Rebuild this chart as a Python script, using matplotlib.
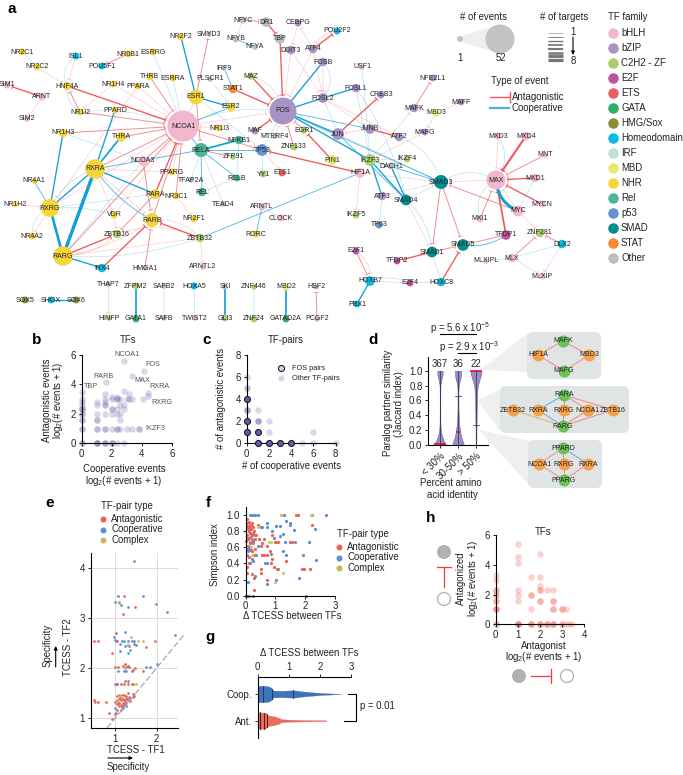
import numpy as np
import matplotlib
matplotlib.use("Agg")
import matplotlib.pyplot as plt
from matplotlib.patches import Circle, FancyBboxPatch, Polygon

plt.rcParams['font.family'] = ['Liberation Sans', 'DejaVu Sans']
plt.rcParams['mathtext.default'] = 'regular'
plt.rcParams['axes.linewidth'] = 0.8

W, H = 683, 775

# ------------------------------------------------------------------ network
family_names = ['bHLH', 'bZIP', 'C2H2 - ZF', 'E2F', 'ETS', 'GATA', 'HMG/Sox', 'Homeodomain',
                'IRF', 'MBD', 'NHR', 'Rel', 'p53', 'SMAD', 'STAT', 'Other']
family_colors = ['#f0b7cf', '#a993c4', '#a9cf6a', '#b9569f', '#ea5f63', '#2fae65', '#8a8f3a', '#0cbce0',
                 '#c2ded6', '#e9e96b', '#f6d53b', '#4bb49a', '#6494cd', '#008f8f', '#f28c2c', '#bdbdbd']

# name, layout x, layout y, family, number of events
nodes_left = [
    ('NR2C1', 22, 52, 'NHR', 1), ('NR2C2', 37, 67, 'NHR', 1), ('SIM1', 7, 85, 'bHLH', 1),
    ('ARNT', 42, 97, 'bHLH', 1), ('SIM2', 27, 119, 'bHLH', 0), ('ISL1', 76, 56, 'Homeodomain', 1),
    ('HNF4A', 67, 86, 'NHR', 2), ('POU5F1', 102, 66, 'Homeodomain', 1), ('NR0B1', 128, 54, 'NHR', 1),
    ('ESRRG', 153, 52, 'NHR', 1), ('NR1H4', 113, 84, 'NHR', 1), ('PPARA', 138, 86, 'NHR', 1),
    ('THRB', 150, 77, 'NHR', 1), ('ESRRA', 173, 78, 'NHR', 1), ('NR1I2', 80, 112, 'NHR', 1),
    ('PPARD', 115, 110, 'NHR', 1), ('NR1H3', 63, 133, 'NHR', 2), ('THRA', 121, 137, 'NHR', 3),
    ('NCOA1', 183, 126, 'bHLH', 52), ('ESR1', 196, 97, 'NHR', 9), ('ESR2', 231, 107, 'NHR', 2),
    ('IRF9', 224, 68, 'IRF', 0), ('STAT1', 233, 89, 'STAT', 2), ('PLSCR1', 210, 79, 'Other', 0),
    ('SMYD3', 209, 34, 'Other', 0), ('NR2F2', 181, 37, 'NHR', 1), ('NR1I3', 219, 128, 'NHR', 1),
    ('NCOA3', 143, 161, 'bHLH', 3), ('RXRA', 95, 169, 'NHR', 18), ('PPARG', 172, 172, 'NHR', 1),
    ('RARA', 155, 194, 'NHR', 3), ('NR3C1', 176, 196, 'NHR', 1), ('NR2F1', 194, 219, 'NHR', 1),
    ('VDR', 114, 215, 'NHR', 1), ('RARB', 152, 220, 'NHR', 8), ('ZBTB32', 200, 238, 'C2H2 - ZF', 2),
    ('ZBTB16', 117, 234, 'C2H2 - ZF', 2), ('RXRG', 50, 208, 'NHR', 15), ('NR4A1', 34, 181, 'NHR', 0),
    ('NR1H2', 15, 204, 'NHR', 0), ('NR4A2', 32, 236, 'NHR', 1), ('RARG', 63, 256, 'NHR', 18),
    ('IRX4', 102, 268, 'Homeodomain', 2), ('HMGA1', 145, 268, 'Other', 0), ('ARNTL2', 203, 267, 'bHLH', 0),
]
nodes_middle = [
    ('MAZ', 251, 76, 'C2H2 - ZF', 1), ('NFYC', 243, 20, 'Other', 1), ('DR1', 266, 22, 'Other', 3),
    ('NFYB', 236, 39, 'Other', 1), ('NFYA', 255, 47, 'Other', 0), ('TBP', 280, 39, 'Other', 3),
    ('CEBPG', 298, 23, 'bZIP', 1), ('DDIT3', 291, 50, 'bZIP', 2), ('ATF4', 313, 49, 'bZIP', 2),
    ('POU2F2', 337, 31, 'Homeodomain', 1), ('FOSB', 323, 62, 'bZIP', 2), ('FOSL2', 323, 98, 'bZIP', 3),
    ('FOSL1', 356, 88, 'bZIP', 2), ('USF1', 362, 67, 'bHLH', 0), ('CREB3', 381, 95, 'bZIP', 1),
    ('FOS', 283, 111, 'bZIP', 38), ('MAF', 255, 131, 'bZIP', 1), ('MTERF4', 275, 136, 'Other', 0),
    ('EGR1', 304, 130, 'C2H2 - ZF', 1), ('ZNF133', 294, 147, 'C2H2 - ZF', 1), ('PIN1', 332, 160, 'MBD', 3),
    ('NFKB1', 239, 140, 'Rel', 2), ('RELA', 201, 150, 'Rel', 8), ('TP53', 262, 150, 'p53', 5),
    ('ZFP91', 233, 157, 'C2H2 - ZF', 0), ('TFAP2A', 191, 180, 'Other', 0), ('RELB', 237, 178, 'Rel', 1),
    ('REL', 202, 192, 'Rel', 2), ('TEAD4', 223, 204, 'Other', 0), ('YY1', 263, 174, 'C2H2 - ZF', 1),
    ('ETS1', 282, 173, 'ETS', 1), ('ARNTL', 262, 207, 'bHLH', 1), ('CLOCK', 281, 218, 'bHLH', 1),
    ('RORC', 256, 234, 'NHR', 1), ('JUN', 338, 134, 'bZIP', 5), ('JUNB', 370, 129, 'bZIP', 3),
    ('ATF2', 399, 137, 'bZIP', 2), ('HIF1A', 360, 173, 'bHLH', 3), ('IKZF3', 370, 160, 'C2H2 - ZF', 5),
    ('IKZF4', 407, 159, 'C2H2 - ZF', 1), ('DACH1', 391, 166, 'Other', 1), ('ATF3', 382, 196, 'bZIP', 2),
    ('IKZF5', 356, 215, 'C2H2 - ZF', 1), ('TP63', 379, 225, 'p53', 1),
]
nodes_right = [
    ('NFE2L1', 433, 78, 'bZIP', 1), ('MAFK', 414, 108, 'bZIP', 2), ('MBD3', 436, 113, 'MBD', 1),
    ('MAFF', 461, 102, 'bZIP', 1), ('MAFG', 425, 132, 'bZIP', 1), ('SMAD3', 441, 182, 'SMAD', 8),
    ('SMAD4', 406, 200, 'SMAD', 4), ('SMAD1', 432, 252, 'SMAD', 4), ('SMAD5', 463, 245, 'SMAD', 5),
    ('TFDP2', 397, 261, 'E2F', 1), ('E2F1', 356, 251, 'E2F', 1), ('MAX', 496, 180, 'bHLH', 17),
    ('MXD3', 498, 136, 'bHLH', 1), ('MXD4', 526, 136, 'bHLH', 2), ('MNT', 545, 155, 'bHLH', 0),
    ('MXD1', 535, 178, 'bHLH', 2), ('MYCN', 542, 204, 'bHLH', 1), ('MYC', 518, 211, 'bHLH', 4),
    ('MXI1', 480, 219, 'bHLH', 1), ('TFDP1', 506, 235, 'E2F', 3), ('ZNF281', 540, 233, 'C2H2 - ZF', 2),
    ('DLX2', 562, 244, 'Homeodomain', 2), ('MLX', 512, 258, 'bHLH', 2), ('MLXIPL', 486, 261, 'bHLH', 0),
    ('MLXIP', 542, 276, 'bHLH', 1), ('HOXC8', 441, 282, 'Homeodomain', 2), ('E2F4', 410, 283, 'E2F', 1),
    ('HOXB7', 370, 281, 'Homeodomain', 3), ('PBX1', 357, 304, 'Homeodomain', 1),
]
nodes_pairs = [
    ('SOX5', 25, 300, 'HMG/Sox', 1), ('SHOX', 51, 300, 'Homeodomain', 1), ('SOX6', 76, 300, 'HMG/Sox', 1),
    ('THAP7', 108, 284, 'Other', 0), ('HINFP', 109, 318, 'C2H2 - ZF', 0), ('ZFPM2', 136, 286, 'C2H2 - ZF', 1),
    ('GATA1', 136, 319, 'GATA', 1), ('SAFB2', 164, 286, 'Other', 0), ('SAFB', 164, 318, 'Other', 0),
    ('HOXA5', 194, 286, 'Homeodomain', 1), ('TWIST2', 195, 318, 'bHLH', 0), ('SKI', 225, 287, 'Other', 0),
    ('GLI3', 225, 318, 'C2H2 - ZF', 1), ('ZNF446', 254, 287, 'C2H2 - ZF', 0), ('ZNF24', 254, 319, 'C2H2 - ZF', 1),
    ('MBD2', 286, 287, 'MBD', 1), ('GATAD2A', 286, 319, 'GATA', 1), ('HSF2', 316, 287, 'Other', 0),
    ('PCGF2', 317, 319, 'Other', 0),
]

# source, target, number of targets, bend
antagonistic_edges = [
    ('HNF4A', 'NCOA1', 3, 0), ('NR1H4', 'NCOA1', 1, 0), ('PPARA', 'NCOA1', 1, 0), ('THRB', 'NCOA1', 2, 0),
    ('NR1I2', 'NCOA1', 2, 0), ('NR1H3', 'NCOA1', 2, 0), ('THRA', 'NCOA1', 2, 0), ('RXRA', 'NCOA1', 2, 0),
    ('PPARG', 'NCOA1', 1, 0), ('RARA', 'NCOA1', 3, 0), ('NR3C1', 'NCOA1', 2, 0), ('RARB', 'NCOA1', 2, 0),
    ('RXRG', 'NCOA1', 1, 0), ('RARG', 'NCOA1', 2, 0), ('VDR', 'NCOA1', 1, 0), ('NR1I3', 'NCOA1', 1, 0),
    ('NCOA3', 'NCOA1', 2, 0), ('ESR1', 'RELA', 2, 0), ('ESR1', 'SMYD3', 2, 0), ('NCOA1', 'TP53', 2, 0),
    ('NCOA1', 'FOS', 1, 0), ('MAZ', 'FOS', 3, 0), ('STAT1', 'FOS', 3, 0), ('MAF', 'FOS', 3, 0),
    ('MTERF4', 'FOS', 1, 0), ('EGR1', 'FOS', 2, 0), ('ZNF133', 'FOS', 2, 0), ('PIN1', 'EGR1', 3, 0),
    ('TBP', 'FOS', 3, 0), ('DDIT3', 'FOS', 1, 0), ('ATF4', 'FOS', 1, 0), ('MAZ', 'FOS', 1, -0.3),
    ('DR1', 'TBP', 3, 0), ('NFYC', 'DR1', 2, 0), ('NFYC', 'NFYB', 1, 0), ('ATF4', 'CEBPG', 1, 0),
    ('CEBPG', 'DDIT3', 1, 0), ('DDIT3', 'FOSL2', 1, 0), ('ATF4', 'FOSL2', 1, 0), ('ATF4', 'POU2F2', 3, 0),
    ('POU2F2', 'ATF4', 1, 0.3), ('FOSB', 'FOSL2', 1, 0), ('JUN', 'CREB3', 3, 0), ('JUNB', 'ATF2', 3, 0),
    ('JUNB', 'JUN', 1, 0), ('FOSL2', 'JUNB', 1, 0), ('FOSL2', 'ATF2', 1, 0), ('IKZF3', 'MAFK', 1, 0),
    ('IKZF3', 'MAFG', 1, 0), ('IKZF3', 'IKZF4', 1, 0), ('HIF1A', 'TP53', 3, 0),
    ('HIF1A', 'SMAD3', 1, 0), ('HIF1A', 'IKZF5', 1, 0), ('ATF3', 'SMAD3', 1, 0), ('SMAD4', 'SMAD1', 1, 0),
    ('SMAD3', 'SMAD1', 2, 0), ('SMAD3', 'SMAD5', 2, 0), ('MAX', 'SMAD3', 1, 0), ('MYC', 'SMAD3', 2, 0),
    ('SMAD1', 'TFDP2', 3, 0), ('TFDP1', 'SMAD5', 2, 0), ('SMAD1', 'SMAD5', 2, 0), ('HOXC8', 'SMAD5', 3, 0),
    ('E2F4', 'HOXB7', 1, 0), ('E2F1', 'HOXB7', 2, 0), ('E2F1', 'HOXB7', 1, -0.3), ('MXD3', 'MAX', 1, 0),
    ('MXD4', 'MAX', 5, 0), ('MNT', 'MAX', 2, 0), ('MXD1', 'MAX', 3, 0), ('MYCN', 'MAX', 3, 0),
    ('MYC', 'MAX', 1, 0), ('MXI1', 'MAX', 2, 0), ('TFDP1', 'MAX', 4, 0), ('MYC', 'ZNF281', 1, 0),
    ('MLX', 'ZNF281', 2, 0), ('DLX2', 'ZNF281', 2, 0), ('DLX2', 'MLXIP', 1, 0), ('MLX', 'MLXIP', 1, 0),
    ('MBD3', 'MAFF', 1, 0), ('MAFK', 'NFE2L1', 2, 0), ('MBD3', 'MAFK', 1, 0), ('MBD3', 'MAFG', 1, 0),
    ('RELA', 'ZFP91', 2, 0), ('RELB', 'REL', 1, 0), ('TP53', 'ETS1', 1, 0), ('PLSCR1', 'ESR2', 1, 0),
    ('NR2C2', 'HNF4A', 1, 0), ('ARNT', 'SIM1', 3, 0), ('ARNT', 'SIM2', 1, 0), ('ISL1', 'HNF4A', 1, 0),
    ('NR1I2', 'HNF4A', 2, 0), ('NR1H4', 'NR1I2', 1, 0), ('NR0B1', 'POU5F1', 2, 0), ('ESRRG', 'NR0B1', 1, 0),
    ('PPARA', 'RXRG', 1, 0), ('NR1H2', 'RXRG', 1, 0), ('RXRG', 'NR4A2', 1, 0), ('NCOA3', 'RARB', 2, 0),
    ('RARA', 'ZBTB16', 2, 0), ('RARG', 'RARB', 1, 0.12), ('RARG', 'ZBTB16', 3, 0), ('RARG', 'ZBTB16', 1, 0.2),
    ('IRX4', 'RARB', 3, 0), ('HMGA1', 'RARB', 2, 0), ('ZBTB32', 'RARB', 3, 0), ('ZBTB32', 'ARNTL2', 1, 0),
    ('RARG', 'ZBTB32', 1, 0), ('NR3C1', 'NR2F1', 1, 0), ('PPARG', 'RXRA', 1, 0), ('RXRA', 'VDR', 1, 0),
    ('RXRA', 'RARB', 1, 0), ('VDR', 'ZBTB16', 1, 0), ('ZBTB32', 'RARB', 1, 0.25), ('ZBTB32', 'ZBTB16', 1, 0.2),
]
cooperative_edges = [
    ('NR1H3', 'RXRG', 3, 0), ('RXRA', 'RARG', 8, 0), ('RXRG', 'RARG', 6, 0), ('RXRA', 'RXRG', 3, 0),
    ('RXRG', 'RXRA', 1, -0.2), ('PPARD', 'RXRA', 3, 0), ('THRA', 'RXRA', 4, 0), ('RXRA', 'RELA', 2, 0),
    ('RXRA', 'RARA', 3, 0), ('RARG', 'NCOA3', 1, 0), ('NR1H3', 'NCOA3', 1, 0), ('RXRA', 'RARB', 2, 0.12),
    ('NR4A1', 'RXRG', 2, 0), ('RXRG', 'NR4A2', 1, 0.35), ('RXRG', 'VDR', 1, -0.1), ('RXRG', 'RARA', 1, 0),
    ('RARG', 'IRX4', 3, 0), ('RARG', 'ZBTB32', 1, 0.1), ('ZBTB32', 'HIF1A', 2, 0), ('ESRRG', 'NCOA1', 1, 0),
    ('ESRRA', 'NCOA1', 1, 0), ('NR1I2', 'NCOA1', 1, -0.12), ('RELA', 'NCOA1', 2, 0), ('ESR1', 'NCOA1', 1, 0),
    ('ESR2', 'NCOA1', 2, 0), ('NCOA1', 'FOS', 1, -0.15), ('NR2F2', 'ESR1', 3, 0), ('ESR1', 'ESR2', 3, 0),
    ('IRF9', 'STAT1', 2, 0), ('ESR1', 'TP53', 1, 0), ('NFYB', 'NFYA', 2, 0), ('FOSB', 'FOS', 3, 0),
    ('FOS', 'FOSL2', 3, 0), ('FOSL2', 'FOSL1', 3, 0), ('FOSB', 'FOSL2', 1, -0.4), ('FOS', 'JUNB', 2, 0),
    ('FOS', 'JUN', 3, 0), ('FOS', 'IKZF3', 3, 0), ('FOS', 'SMAD3', 2, 0), ('FOSL2', 'JUN', 1, 0),
    ('FOSL1', 'IKZF3', 1, 0), ('USF1', 'IKZF3', 1, 0), ('FOSL1', 'SMAD4', 1, -0.1), ('ATF2', 'SMAD3', 1, -0.25),
    ('IKZF3', 'SMAD4', 3, 0), ('IKZF3', 'SMAD3', 2, 0), ('JUN', 'SMAD3', 1, 0), ('JUN', 'SMAD4', 2, 0),
    ('IKZF3', 'ATF3', 3, 0), ('DACH1', 'SMAD4', 3, 0), ('ATF3', 'TP63', 1, 0), ('SMAD4', 'SMAD3', 1, 0),
    ('SMAD4', 'SMAD1', 1, -0.2), ('SMAD3', 'MAX', 1, -0.3), ('SMAD5', 'TFDP1', 2, 0.2), ('SMAD1', 'HOXC8', 1, 0),
    ('E2F4', 'HOXC8', 1, 0), ('HOXB7', 'E2F4', 1, -0.2), ('HOXB7', 'PBX1', 3, 0), ('MXD3', 'MAX', 1, -0.35),
    ('MXI1', 'MAX', 1, -0.4), ('MAX', 'MYC', 7, 0.3), ('MXD1', 'MYC', 1, 0), ('DLX2', 'MLX', 1, 0),
    ('MLX', 'MLXIPL', 1, 0), ('NFKB1', 'RELA', 4, 0), ('RELA', 'TP53', 2, 0), ('RELA', 'TFAP2A', 1, 0),
    ('RELA', 'REL', 2, 0), ('RELA', 'RELB', 2, 0), ('RELA', 'TEAD4', 1, 0), ('NFKB1', 'RELB', 1, 0),
    ('TP53', 'YY1', 1, 0), ('TP53', 'FOS', 1, 0), ('ARNTL', 'CLOCK', 1, 0), ('ARNTL', 'RORC', 2, 0),
    ('NR2C1', 'NR2C2', 1, 0), ('ISL1', 'HNF4A', 1, 0.4), ('HNF4A', 'NR1I2', 1, 0.3), ('SOX5', 'SHOX', 1, 0),
    ('SHOX', 'SOX6', 3, 0), ('ZFPM2', 'GATA1', 4, 0), ('SAFB2', 'SAFB', 1, 0), ('HOXA5', 'TWIST2', 1, 0),
    ('SKI', 'GLI3', 4, 0), ('ZNF446', 'ZNF24', 1, 0), ('MBD2', 'GATAD2A', 4, 0),
]
extra_antagonistic_pairs = [('THAP7', 'HINFP', 1, 0), ('PCGF2', 'HSF2', 2, 0)]

# legends
event_legend_values = [1, 52]
target_legend_values = [1, 2, 3, 4, 5, 6, 7, 8]

# ------------------------------------------------------------------ panel b
b_x = [0, 0, 0, 0, 0, 0, 0, 0, 0, 0, 0, 0, 0, 0, 0,
       1, 1, 1, 1, 1, 1, 1, 1, 1, 1, 1,
       1.58, 1.62, 1.58, 1.58, 1.58, 1.58, 1.58, 1.58, 1.58, 1.58, 1.58, 1.58,
       2, 2, 2, 2, 2, 2, 2, 2, 2, 2.32, 2.32, 2.32, 2.32, 2.32, 2.32, 2.32, 2.32,
       2.58, 2.58, 2.58, 2.58, 2.58, 2.81, 2.84, 2.81, 2.81, 2.81, 3, 3, 3.17, 3.17,
       3.33, 3.32, 3.32, 3.81, 3.84, 4.18, 4.1, 4.44, 4.44]
b_y = [3.46, 3, 2.81, 2.58, 2.32, 2.32, 2.32, 2, 2, 1.58, 1.58, 1, 1, 0, 0,
       2.81, 2.58, 2, 1.58, 1.58, 1, 1, 0, 0, 0, 0,
       3.32, 4.17, 3, 2.81, 2.58, 2.58, 2, 1, 1, 0, 0, 0,
       3.17, 3, 2.32, 2.32, 2, 1, 0, 0, 0, 3.17, 3, 3, 2.32, 2, 1, 1, 0,
       3, 2.58, 2, 1.58, 1, 0, 5.58, 2.58, 2.32, 3.58, 3, 1, 3.32, 3,
       4.58, 3, 1, 1, 1, 4.93, 3, 3.4, 3.2]

# ------------------------------------------------------------------ panel c
c_other_x = [0, 0, 0, 0, 0, 0, 1, 1, 1, 2, 2, 5, 6, 6, 8, 1]
c_other_y = [6, 5, 5, 3, 3, 3, 3, 2, 2, 2, 1, 0, 1, 0, 0, 2]
c_fos_x = [0, 0, 0, 1, 1, 2, 3, 4]
c_fos_y = [4, 2, 1, 1, 0, 0, 0, 0]

# ------------------------------------------------------------------ panel d
d_categories = ['< 30%', '30-50%', '> 50%']
d_counts = [367, 36, 22]
d_medians = [0.01, 0.18, 1.0]
d_quartiles = [[], [0.66], [0.27]]
d_levels = [0, 0.05, 0.1, 0.15, 0.2, 0.3, 0.5, 0.7, 0.8, 0.85, 0.9, 0.95, 1.0]
d_density = [[0.33, 0.22, 0.14, 0.08, 0.04, 0.02, 0.015, 0.015, 0.02, 0.05, 0.1, 0.14, 0.15],
             [0.33, 0.26, 0.19, 0.14, 0.11, 0.05, 0.025, 0.02, 0.04, 0.08, 0.14, 0.16, 0.17],
             [0.015, 0.015, 0.02, 0.02, 0.02, 0.03, 0.04, 0.06, 0.1, 0.16, 0.22, 0.28, 0.31]]

# ------------------------------------------------------------------ panel e
e_ant_x = [1.21, 1.1, 1.48, 1.19, 0.49, 0.59, 1.02, 1.05, 0.93, 1.95, 1.3, 1.74, 1.0, 1.07, 1.23, 1.19, 1.26, 1.32,
           1.44, 1.48, 1.68, 1.03, 1.13, 1.21, 1.23, 1.31, 1.4, 1.44, 0.49, 0.5, 0.59, 0.78, 0.84, 0.92, 1.42, 1.45,
           1.42, 1.03, 1.1, 1.15, 1.22, 1.27, 1.03, 1.08, 1.13, 1.18, 1.23, 1.29, 1.03, 1.08, 1.13, 1.18, 1.1, 1.15,
           1.21, 1.05, 1.02, 1.26, 1.32, 1.35, 1.0]
e_ant_y = [3.43, 3.31, 3.21, 3.08, 2.53, 2.53, 2.69, 2.53, 2.29, 2.53, 2.46, 2.41, 2.02, 2.02, 2.08, 2.03, 2.01, 2.01,
           1.95, 1.99, 1.94, 1.67, 1.67, 1.67, 1.73, 1.67, 1.67, 1.67, 1.36, 1.31, 1.31, 1.31, 1.1, 0.98, 1.48, 1.44,
           1.41, 1.43, 1.45, 1.45, 1.45, 1.44, 1.35, 1.37, 1.35, 1.37, 1.33, 1.37, 1.28, 1.29, 1.26, 1.29, 1.23, 1.21,
           1.27, 1.16, 1.09, 1.39, 1.41, 1.33, 1.31]
e_coop_x = [1.45, 1.07, 1.67, 1.0, 1.13, 1.31, 1.98, 2.25, 2.45, 1.24, 0.98, 0.99, 1.02, 1.17, 1.21, 1.31, 1.4, 1.45,
            1.11, 1.23, 1.45, 1.5, 1.32, 1.35, 1.11, 1.31, 1.74, 1.84, 2.01, 1.06, 1.22, 1.27, 1.31, 1.4, 1.0, 1.05,
            1.31, 1.3, 1.11, 1.21, 1.27, 1.23, 1.31, 1.19, 1.14, 1.07, 1.0, 1.0, 1.35, 1.18, 1.26]
e_coop_y = [4.14, 3.43, 3.43, 3.31, 3.25, 3.21, 3.28, 3.11, 2.66, 2.71, 2.62, 2.56, 2.53, 2.53, 2.53, 2.53, 2.53, 2.53,
            2.47, 2.43, 2.47, 2.46, 2.43, 2.36, 2.34, 2.29, 2.02, 2.02, 2.07, 1.93, 1.93, 1.93, 2.03, 1.93, 1.67, 1.67,
            1.74, 1.49, 1.39, 1.36, 1.29, 1.26, 1.36, 1.19, 1.16, 1.29, 1.19, 1.08, 1.39, 1.23, 1.23]
e_complex_x = [1.1, 1.37, 1.55, 1.68, 1.31, 1.23, 1.49, 1.1, 1.07, 1.15]
e_complex_y = [3.29, 2.62, 2.53, 2.53, 2.46, 1.99, 1.67, 1.43, 1.35, 1.41]

# ------------------------------------------------------------------ panel f
f_ant_x = [0.03, 0.05, 0.08, 0.1, 0.13, 0.15, 0.18, 0.2, 0.22, 0.25, 0.28, 0.3, 0.12, 0.05, 0.02, 0.08, 0.15, 0.25,
           0.35, 0.4, 0.45, 0.5, 0.55, 0.6, 0.05, 0.12, 0.22, 0.27, 0.3, 0.1, 0.03, 0.05, 0.22, 0.28, 0.52, 0.5, 0.7,
           0.62, 0.55, 0.7, 0.8, 0.85, 0.72, 0.9, 0.95, 1.1, 0.98, 1.03, 1.1, 0.88, 1.35, 1.9, 1.95, 2.15, 1.5, 1.55,
           0.28, 0.0, 0.03, 2.02, 1.18, 1.69, 1.75, 2.22, 2.23, 0.07, 0.12, 0.17, 0.1, 0.2, 0.14, 0.06, 0.24]
f_ant_y = [0.95, 0.9, 0.85, 0.8, 0.88, 0.78, 0.83, 0.9, 0.75, 0.85, 0.8, 0.7, 0.72, 0.75, 0.68, 0.62, 0.6, 0.65, 0.75,
           0.88, 0.7, 0.62, 0.65, 0.7, 0.5, 0.48, 0.55, 0.5, 0.58, 0.4, 0.35, 0.28, 0.27, 0.22, 0.33, 0.28, 0.2, 0.5,
           0.5, 0.5, 0.55, 0.4, 0.62, 0.45, 0.35, 0.33, 0.66, 0.66, 0.66, 0.75, 0.43, 0.33, 0.33, 0.33, 0.66, 0.66,
           0.07, 0.0, 0.0, 0.0, 1.0, 1.0, 1.0, 1.0, 0.88, 0.72, 0.82, 0.74, 0.92, 0.86, 0.67, 0.86, 0.78]
f_coop_x = [0.15, 0.2, 0.25, 0.3, 0.42, 1.3, 2.7, 1.37, 1.5, 1.48, 0.7, 0.7, 1.03, 1.15, 0.5, 0.55, 1.63, 2.33, 0.9,
            1.25, 1.15, 0.95, 0.3, 0.1, 0.05, 0.08, 0.2, 0.15, 0.25, 0.03, 0.1, 0.4, 0.08, 0.18, 0.35, 0.2, 0.25, 0.15,
            0.65, 0.72, 0.85, 1.05, 1.35, 1.25, 1.32, 1.65, 2.13, 1.92, 2.35, 1.78, 1.03, 0.72, 0.08, 0.3, 0.02, 0.12,
            0.25]
f_coop_y = [1.0, 1.0, 1.0, 1.0, 1.0, 1.0, 1.0, 0.93, 0.88, 0.9, 0.9, 0.85, 0.87, 0.87, 0.85, 0.85, 0.81, 0.83, 0.8,
            0.76, 0.74, 0.72, 0.75, 0.85, 0.82, 0.7, 0.7, 0.65, 0.68, 0.58, 0.58, 0.62, 0.55, 0.57, 0.5, 0.45, 0.43,
            0.4, 0.4, 0.4, 0.52, 0.33, 0.5, 0.55, 0.66, 0.66, 0.66, 0.5, 0.44, 0.22, 0.19, 0.14, 0.17, 0.25, 0.0, 0.0,
            0.0]
f_complex_x = [1.2, 2.2, 0.4, 0.02, 0.78, 0.85, 0.18, 0.2, 1.0, 1.25, 0.0]
f_complex_y = [1.0, 1.0, 0.85, 0.8, 0.66, 0.66, 0.6, 0.5, 0.17, 0.28, 0.8]

# ------------------------------------------------------------------ panel g
g_coop_x = [0, 0.03, 0.1, 0.3, 0.4, 0.47, 0.5, 0.8, 1.15, 1.5, 2.0, 2.7]
g_coop_h = [0.26, 0.3, 0.31, 0.3, 0.26, 0.2, 0.13, 0.12, 0.14, 0.09, 0.04, 0.0]
g_ant_x = [0, 0.03, 0.1, 0.25, 0.3, 0.33, 0.55, 0.7, 0.75, 1.0, 1.5, 2.2]
g_ant_h = [0.26, 0.3, 0.31, 0.3, 0.25, 0.2, 0.16, 0.1, 0.06, 0.04, 0.025, 0.015]
g_coop_lines = [0.18, 0.47, 1.15]
g_ant_lines = [0.08, 0.2, 0.3]

# ------------------------------------------------------------------ panel h
h_x = [0] * 13 + [1] * 10 + [1.58] * 7 + [2] * 10 + [2.32] * 4 + [2.58] * 8 + [3, 3, 3, 3, 3.17, 3.17, 3.32, 3.46]
h_y = [3.32, 3, 2.32, 2.32, 2, 2, 1.58, 1.58, 1, 1, 1, 0, 0,
       5.4, 4.5, 4.1, 2.32, 2, 1.58, 0, 0, 0, 0,
       3.17, 2, 2, 1, 0, 0, 0,
       4.7, 3.17, 2.58, 2.32, 2.32, 1.58, 1.58, 0, 0, 0,
       2.32, 0, 0, 0,
       2.32, 1.58, 1.58, 1, 1, 0, 0, 0,
       1, 1, 0, 0, 1, 0, 0, 0]

# mini networks of panel d
mini_orange = [('HIF1A', 538, 355), ('MBD3', 589, 355), ('ZBTB32', 513, 410), ('RXRA', 538, 410), ('RXRG', 564, 410),
               ('NCOA1', 588, 410), ('ZBTB16', 613, 410), ('NCOA1', 539, 464), ('RXRG', 564, 464), ('RXRA', 588, 464)]
mini_green = [('MAFK', 563, 341), ('MAFG', 564, 371), ('RARA', 564, 395), ('RARG', 563, 426), ('PPARD', 563, 448),
              ('PPARG', 564, 480)]
mini_edges = [(0, 10, 'r'), (1, 10, 'r'), (0, 11, 'r'), (1, 11, 'r'),
              (3, 12, 'b'), (4, 12, 'b'), (5, 12, 'r'), (6, 12, 'r'),
              (2, 13, 'y'), (3, 13, 'b'), (4, 13, 'b'), (5, 13, 'r'), (6, 13, 'r'),
              (7, 14, 'r'), (8, 14, 'r'), (9, 14, 'b'), (7, 15, 'r'), (8, 15, 'r'), (9, 15, 'r')]

RED = '#f0595a'
BLUE = '#12a0d8'
DARK = '#222222'
PURPLE = '#6a5aa5'
PT_RED = '#ef5f55'
PT_BLUE = '#5b8fd6'
PT_GOLD = '#c9b45a'

fig = plt.figure(figsize=(W / 100, H / 100), dpi=100, facecolor='white')
net = fig.add_axes([0, 0, 1, 1], zorder=0)
net.set_xlim(0, W)
net.set_ylim(H, 0)
net.axis('off')


def px_size(d):
    # marker area for a diameter in pixels
    return (d * 0.72) ** 2


def label(x, y, s, size=6.9, **kw):
    kw.setdefault('ha', 'center')
    kw.setdefault('va', 'center')
    kw.setdefault('color', DARK)
    net.text(x, y, s, fontsize=size, **kw)


def sub_axes(left, right, top, bottom):
    a = fig.add_axes([left / W, 1 - bottom / H, (right - left) / W, (bottom - top) / H], zorder=2)
    a.patch.set_alpha(0)
    for side in ['top', 'right']:
        a.spines[side].set_visible(False)
    a.tick_params(labelsize=6.9, length=2.5, width=0.7, pad=1.5, colors=DARK)
    return a


# nodes
all_nodes = nodes_left + nodes_middle + nodes_right + nodes_pairs
pos = {n[0]: (n[1], n[2]) for n in all_nodes}
radius = {n[0]: 1.5 + 14 * np.sqrt(max(n[4], 0.4) / 52) for n in all_nodes}
fam_col = dict(zip(family_names, family_colors))


def draw_edge(src, dst, w, bend, kind):
    p0 = np.array(pos[src], float)
    p2 = np.array(pos[dst], float)
    d = p2 - p0
    ctrl = (p0 + p2) / 2 + bend * np.array([-d[1], d[0]])
    t = np.linspace(0, 1, 60)[:, None]
    pts = (1 - t) ** 2 * p0 + 2 * t * (1 - t) * ctrl + t ** 2 * p2
    col = RED if kind == 'a' else BLUE
    alpha = min(1, 0.42 + 0.3 * (w - 1))
    lw = 0.35 + 0.3 * (w - 1)
    if kind == 'a':
        gap = radius[dst] + 2.2
        keep = np.hypot(*(pts - p2).T) >= gap
        pts = pts[keep]
        tang = pts[-1] - pts[-2]
        tang = tang / np.hypot(*tang)
        n = np.array([-tang[1], tang[0]]) * 2.6
        end = pts[-1]
        net.plot([end[0] - n[0], end[0] + n[0]], [end[1] - n[1], end[1] + n[1]], color=col,
                 lw=max(0.5, lw * 0.7), alpha=alpha, zorder=2, solid_capstyle='butt')
    net.plot(pts[:, 0], pts[:, 1], color=col, lw=lw, alpha=alpha, zorder=2, solid_capstyle='round')


for e in antagonistic_edges + extra_antagonistic_pairs:
    draw_edge(e[0], e[1], e[2], e[3], 'a')
for e in cooperative_edges:
    draw_edge(e[0], e[1], e[2], e[3], 'c')

net.scatter([n[1] for n in all_nodes], [n[2] for n in all_nodes],
            s=[px_size(2 * radius[n[0]]) for n in all_nodes],
            c=[fam_col[n[3]] for n in all_nodes], linewidths=0, zorder=3)
for n in all_nodes:
    label(n[1], n[2], n[0], size=5.0, zorder=4)

# network legends
net.add_patch(Polygon([(460, 36.5), (498, 25), (498, 53), (460, 41.5)], closed=True, fc='#eeeeee', ec='none'))
net.scatter([460, 500], [39, 39], s=[px_size(6), px_size(29)], c='#c3c3c3', linewidths=0, zorder=3)
label(484, 17, '# of events')
label(460, 58, str(event_legend_values[0]))
label(501, 58, str(event_legend_values[1]))

label(564, 17, '# of targets')
for i, v in enumerate(target_legend_values):
    net.plot([548, 563], [33 + i * 3.9] * 2, color='#777777', lw=0.4 + 0.28 * (v - 1), solid_capstyle='butt')
label(573, 32, '1')
label(573, 61, '8')
net.annotate('', xy=(573, 55), xytext=(573, 37), arrowprops=dict(arrowstyle='-|>', color='black', lw=0.8,
                                                                  mutation_scale=5, shrinkA=0, shrinkB=0))

label(491, 81, 'Type of event', ha='left')
net.plot([490, 509], [97, 97], color=RED, lw=1.0)
net.plot([509.5, 509.5], [92, 102], color=RED, lw=1.0)
label(512, 97, 'Antagonistic', ha='left')
net.plot([490, 509], [108, 108], color='#45b4e4', lw=1.6)
label(512, 108, 'Cooperative', ha='left')

label(608, 17, 'TF family', ha='left')
for i, (fam, col) in enumerate(zip(family_names, family_colors)):
    net.scatter([613], [33 + i * 15], s=px_size(10.5), c=col, linewidths=0)
    label(621, 33 + i * 15, fam, ha='left')

# panel letters
for s, x, y in [('a', 12, 9), ('b', 37, 340), ('c', 207, 340), ('d', 373, 340),
                ('e', 50, 503), ('f', 208, 503), ('g', 210, 637), ('h', 431, 518)]:
    label(x, y, s, size=11, fontweight='bold', color='black')

# ---- b
ax_b = sub_axes(81.7, 171.7, 355, 443.3)
ax_b.scatter(b_x, b_y, s=px_size(6.5), color=PURPLE, alpha=0.24, linewidths=0, clip_on=False)
ax_b.set_xlim(0, 6)
ax_b.set_ylim(0, 6)
ax_b.set_xticks([0, 2, 4, 6])
ax_b.set_yticks([0, 2, 4, 6])
label(128, 340, 'TFs')
label(47, 400, 'Antagonistic events', rotation=90)
label(58, 400, 'log$_2$(# events + 1)', rotation=90)
label(124, 469, 'Cooperative events')
label(124, 481, 'log$_2$(# events + 1)')
for s, x, y in [('NCOA1', 127, 354), ('FOS', 153, 364), ('RARB', 104, 376), ('MAX', 142, 380),
                ('RXRA', 159, 387), ('TBP', 91, 387), ('RXRG', 162, 402), ('IKZF3', 155, 429)]:
    label(x, y, s, size=5.2, color='#555555')

# ---- c
ax_c = sub_axes(246.7, 335.7, 355, 443.3)
ax_c.scatter(c_other_x, c_other_y, s=px_size(6.5), color=PURPLE, alpha=0.24, linewidths=0, clip_on=False)
ax_c.scatter(c_fos_x, c_fos_y, s=px_size(6), facecolor=PURPLE, edgecolor='#1d1a33', linewidths=0.8,
             clip_on=False, zorder=3)
ax_c.set_xlim(0, 8)
ax_c.set_ylim(0, 8)
ax_c.set_xticks([0, 2, 4, 6, 8])
ax_c.set_yticks([0, 2, 4, 6, 8])
label(286, 340, 'TF-pairs')
label(221, 398, '# of antagonistic events', rotation=90)
label(292, 466, '# of cooperative events')
net.scatter([281], [368], s=px_size(6), facecolor='#d9d5e8', edgecolor='#1d1a33', linewidths=0.8)
net.scatter([281], [378], s=px_size(6), color='#d9d5e8', linewidths=0)
label(292, 368, 'FOS pairs', size=5.3, ha='left')
label(292, 378, 'Other TF-pairs', size=5.3, ha='left')

# ---- d
for verts in ([(483, 368), (528, 333), (528, 372), (483, 370)],
              [(478, 400), (502, 388), (500, 431), (478, 401)],
              [(480, 430), (530, 441), (530, 486), (480, 431)]):
    net.add_patch(Polygon(verts, closed=True, fc='#eef0f0', ec='none', zorder=0.5))
for x0, x1, y0, y1 in [(527, 601, 332, 379), (500, 629, 386, 433), (528, 602, 440, 488)]:
    net.add_patch(FancyBboxPatch((x0 + 6, y0 + 6), x1 - x0 - 12, y1 - y0 - 12, boxstyle='round,pad=6',
                                 fc='#e1e4e4', ec='none', zorder=0.6))
mini_nodes = mini_orange + mini_green
mini_cols = {'r': '#f08a86', 'b': '#6aa6dc', 'y': '#d8b85a'}
for a, b, k in mini_edges:
    net.plot([mini_nodes[a][1], mini_nodes[b][1]], [mini_nodes[a][2], mini_nodes[b][2]],
             color=mini_cols[k], lw=0.7, zorder=1)
net.scatter([m[1] for m in mini_orange], [m[2] for m in mini_orange], s=px_size(12), c='#f7a14a', linewidths=0, zorder=3)
net.scatter([m[1] for m in mini_green], [m[2] for m in mini_green], s=px_size(12), c='#6cc05a', linewidths=0, zorder=3)
for m in mini_nodes:
    label(m[1], m[2], m[0], size=5.0, zorder=4)

ax_d = sub_axes(428, 487.7, 356.7, 445)
for i, dens in enumerate(d_density):
    ax_d.fill_betweenx(d_levels, i - np.array(dens), i + np.array(dens), facecolor='#9a8cc6',
                       edgecolor='#6a5f96', linewidth=0.4)
    ax_d.plot([i - np.interp(d_medians[i], d_levels, dens), i + np.interp(d_medians[i], d_levels, dens)],
              [d_medians[i]] * 2, color='#e8174a', lw=1.3, solid_capstyle='butt', clip_on=False)
    for q in d_quartiles[i]:
        ax_d.plot([i - 0.15, i + 0.15], [q, q], color='#222244', lw=0.5)
    ax_d.plot([i, i], [0, 1], color='#2a2440', lw=0.5)
    ax_d.text(i, 1.03, str(d_counts[i]), ha='center', va='bottom', fontsize=6.9, color=DARK)
ax_d.set_xlim(-0.667, 2.65)
ax_d.set_ylim(0, 1.19)
ax_d.set_yticks([0, 0.2, 0.4, 0.6, 0.8, 1.0])
ax_d.set_xticks([0, 1, 2])
ax_d.set_xticklabels(d_categories, rotation=45, ha='right', rotation_mode='anchor')
label(388, 403, 'Paralog partner similarity', rotation=90)
label(399, 404, '(Jaccard index)', rotation=90)
label(451, 483, 'Percent amino')
label(452, 495, 'acid identity')
label(460, 328, 'p = 5.6 x 10$^{-5}$')
net.plot([440, 476], [334, 334], color='black', lw=0.8)
label(469, 347, 'p = 2.9 x 10$^{-3}$')
net.plot([458, 476], [352.7, 352.7], color='black', lw=0.8)

# ---- e
ax_e = sub_axes(90.7, 177.7, 553.3, 728.3)
ax_e.grid(color='#dcdcdc', lw=0.7)
ax_e.set_axisbelow(True)
ax_e.plot([0.8, 2.65], [0.8, 2.65], color='#aaaaaa', lw=0.9, ls=(0, (5, 2)), clip_on=False)
ax_e.scatter(e_coop_x, e_coop_y, s=px_size(2.7), color=PT_BLUE, linewidths=0, clip_on=False)
ax_e.scatter(e_ant_x, e_ant_y, s=px_size(2.7), color=PT_RED, linewidths=0, clip_on=False)
ax_e.scatter(e_complex_x, e_complex_y, s=px_size(2.7), color=PT_GOLD, linewidths=0, clip_on=False)
ax_e.set_xlim(0.404, 2.51)
ax_e.set_ylim(0.794, 4.29)
ax_e.set_xticks([1, 2])
ax_e.set_yticks([1, 2, 3, 4])
label(127, 506, 'TF-pair type')
for i, (s, c) in enumerate(zip(['Antagonistic', 'Cooperative', 'Complex'], [PT_RED, PT_BLUE, PT_GOLD])):
    net.scatter([103], [519 + i * 10.5], s=px_size(6), color=c, linewidths=0)
    label(111, 519 + i * 10.5, s, ha='left')
label(68, 647, 'TCESS - TF2', rotation=90)
label(48, 645, 'Specificity', rotation=90)
net.annotate('', xy=(55.7, 646), xytext=(55.7, 667), arrowprops=dict(arrowstyle='-|>', color='black', lw=0.8,
                                                                      mutation_scale=5, shrinkA=0, shrinkB=0))
label(136, 750, 'TCESS - TF1')
net.annotate('', xy=(133, 758), xytext=(108, 758), arrowprops=dict(arrowstyle='-|>', color='black', lw=0.8,
                                                                    mutation_scale=5, shrinkA=0, shrinkB=0))
label(128, 767, 'Specificity')

# ---- f
ax_f = sub_axes(245.7, 335, 507, 595.7)
ax_f.scatter(f_coop_x, f_coop_y, s=px_size(3.2), color=PT_BLUE, linewidths=0, clip_on=False)
ax_f.scatter(f_ant_x, f_ant_y, s=px_size(3.2), color=PT_RED, linewidths=0, clip_on=False)
ax_f.scatter(f_complex_x, f_complex_y, s=px_size(3.2), color='#c6cf63', linewidths=0, clip_on=False)
ax_f.set_xlim(0, 3)
ax_f.set_ylim(0, 1.1)
ax_f.set_xticks([0, 1, 2, 3])
ax_f.set_yticks([0, 0.2, 0.4, 0.6, 0.8, 1.0])
ax_f.set_yticklabels(['0.0', '0.2', '0.4', '0.6', '0.8', '1.0'])
label(215, 555, 'Simpson index', rotation=90)
label(292, 616, '\u0394 TCESS between TFs')
label(363, 534, 'TF-pair type')
for i, (s, c) in enumerate(zip(['Antagonistic', 'Cooperative', 'Complex'], [PT_RED, PT_BLUE, PT_GOLD])):
    net.scatter([339], [547 + i * 10.5], s=px_size(6), color=c, linewidths=0)
    label(347, 547 + i * 10.5, s, ha='left')

# ---- g
ax_g = sub_axes(257.7, 351, 677.3, 738)
ax_g.spines['top'].set_visible(True)
ax_g.spines['bottom'].set_visible(False)
ax_g.xaxis.tick_top()
ax_g.fill_between(g_coop_x, 1 - np.array(g_coop_h), 1 + np.array(g_coop_h), color='#3f74bb', linewidth=0.2)
ax_g.fill_between(g_ant_x, -np.array(g_ant_h), np.array(g_ant_h), color='#ea6a5e', linewidth=0.2)
for v in g_coop_lines:
    h = np.interp(v, g_coop_x, g_coop_h)
    ax_g.plot([v, v], [1 - h, 1 + h], color='#14213d', lw=0.5)
for v in g_ant_lines:
    h = np.interp(v, g_ant_x, g_ant_h)
    ax_g.plot([v, v], [-h, h], color='#2a1010', lw=0.6)
ax_g.set_xlim(0, 3)
ax_g.set_ylim(-0.648, 1.625)
ax_g.set_xticks([0, 1, 2, 3])
ax_g.set_yticks([0, 1])
ax_g.set_yticklabels(['Ant.', 'Coop.'])
label(309, 653, '\u0394 TCESS between TFs')
net.plot([348, 356, 356, 344], [694, 694, 720.7, 720.7], color='black', lw=0.8)
label(360, 706, 'p = 0.01', ha='left')

# ---- h
ax_h = sub_axes(495.7, 584, 535, 624.3)
ax_h.scatter(h_x, h_y, s=px_size(6.5), color='#ee6a5e', alpha=0.3, linewidths=0, clip_on=False)
ax_h.set_xlim(0, 4)
ax_h.set_ylim(0, 6)
ax_h.set_xticks([0, 1, 2, 3, 4])
ax_h.set_yticks([0, 2, 4, 6])
label(543, 532, 'TFs')
label(461, 578, 'Antagonized', rotation=90)
label(473, 578, 'log$_2$(# events + 1)', rotation=90)
label(544, 646, 'Antagonist')
label(544, 657, 'log$_2$(# events + 1)')
net.add_patch(Circle((444, 552), 7, fc='#aeb2b4', ec='none'))
net.add_patch(Circle((444, 599), 6.5, fc='white', ec='#aeb2b4', lw=0.9))
net.plot([437, 451], [567, 567], color='#ee3b44', lw=0.9)
net.plot([444, 444], [567, 587], color='#ee3b44', lw=0.9)
net.add_patch(Circle((519, 676), 7, fc='#aeb2b4', ec='none'))
net.add_patch(Circle((567, 676), 6.5, fc='white', ec='#aeb2b4', lw=0.9))
net.plot([531, 551], [676, 676], color='#ee3b44', lw=0.9)
net.plot([551, 551], [669, 683], color='#ee3b44', lw=0.9)

fig.savefig('out.png', dpi=100)
